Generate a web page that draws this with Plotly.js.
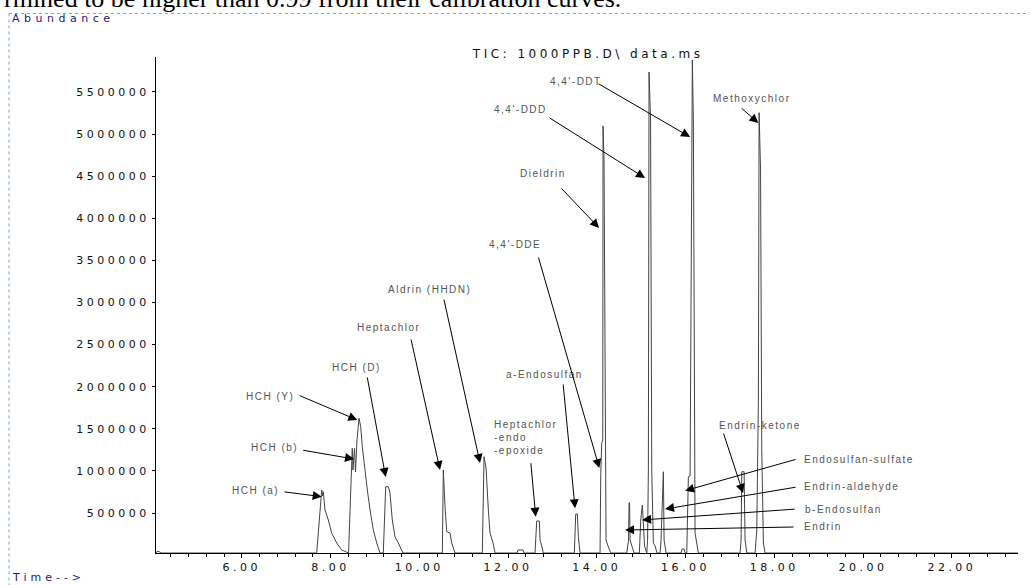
<!DOCTYPE html>
<html>
<head>
<meta charset="utf-8">
<script src="https://cdn.plot.ly/plotly-3.0.1.min.js"></script>
<style>
  html, body { margin: 0; padding: 0; background: #fff; }
  #chart { width: 1030px; height: 585px; }
  .gtitle { letter-spacing: 3.5px; }
  .xtick text, .ytick text { letter-spacing: 3.5px; }
</style>
</head>
<body>
<div id="chart"></div>
<script>
// ---- chromatogram data (retention time in min, abundance) ----
var retentionTime = [
  4.066, 4.09, 4.14, 4.18,
  7.687, 7.762, 7.800, 7.818, 7.836, 7.874, 7.949, 8.025, 8.138, 8.251, 8.399,
  8.405, 8.460, 8.489, 8.505, 8.539, 8.562, 8.595, 8.641, 8.679, 8.715, 8.776, 8.828, 8.889, 8.963, 9.039, 9.114,
  9.188, 9.242, 9.301, 9.339, 9.391, 9.452, 9.526, 9.603, 9.632,
  10.518, 10.540, 10.579, 10.617, 10.691, 10.730, 10.804,
  11.419, 11.458, 11.503, 11.555, 11.593, 11.661, 11.706,
  12.202, 12.224, 12.337, 12.360,
  12.607, 12.645, 12.704, 12.720, 12.758, 12.794,
  13.493, 13.524, 13.561, 13.583, 13.621,
  14.072, 14.088, 14.110, 14.133, 14.140, 14.162, 14.196, 14.207, 14.252, 14.313,
  14.674, 14.714, 14.726, 14.737, 14.748, 14.793, 14.838,
  14.958, 14.989, 15.025, 15.048, 15.075, 15.125,
  15.143, 15.161, 15.176, 15.210, 15.237, 15.273, 15.312, 15.357,
  15.424, 15.447, 15.485, 15.499, 15.515, 15.560,
  15.898, 15.920, 15.966, 15.988,
  16.026, 16.062, 16.101, 16.152, 16.175, 16.190, 16.213, 16.288,
  17.227, 17.250, 17.266, 17.318, 17.340, 17.378,
  17.565, 17.604, 17.640, 17.656, 17.689, 17.716, 17.753, 17.791,
  23.49
];
var abundance = [
  25000, 45000, 40000, 25000,
  25000, 536000, 773000, 702000, 753000, 536000, 417000, 262000, 144000, 61000, 25000,
  25000, 856000, 1268000, 1011000, 1268000, 987000, 1367000, 1625000, 1525000, 1287000, 975000, 773000, 536000, 298000, 144000, 25000,
  25000, 812000, 812000, 737000, 417000, 215000, 144000, 40000, 25000,
  25000, 1011000, 575000, 278000, 262000, 144000, 25000,
  25000, 1169000, 1034000, 536000, 262000, 144000, 25000,
  25000, 61000, 61000, 25000,
  25000, 405000, 405000, 179000, 108000, 25000,
  25000, 488000, 488000, 219000, 25000,
  25000, 971000, 1328000, 1367000, 5096000, 4692000, 1604000, 179000, 108000, 25000,
  25000, 179000, 622000, 622000, 179000, 108000, 25000,
  25000, 417000, 595000, 417000, 108000, 25000,
  179000, 1011000, 5737000, 5167000, 1011000, 144000, 108000, 25000,
  25000, 179000, 990000, 990000, 179000, 25000,
  25000, 72000, 72000, 25000,
  25000, 931000, 939000, 5880000, 5167000, 1842000, 262000, 25000,
  25000, 179000, 990000, 990000, 179000, 25000,
  25000, 298000, 1842000, 5254000, 4574000, 1248000, 144000, 25000,
  25000
];

// ---- compound labels ----
var compoundNames = [
  "HCH (a)", "HCH (b)", "HCH (Y)", "HCH (D)", "Heptachlor", "Aldrin (HHDN)",
  ["Heptachlor", "-endo", "-epoxide"], "a-Endosulfan", "4,4'-DDE", "Dieldrin",
  "4,4'-DDD", "4,4'-DDT", "Methoxychlor", "Endrin-ketone",
  "Endosulfan-sulfate", "Endrin-aldehyde", "b-Endosulfan", "Endrin"
];

// ---- axis ticks / texts ----
var yTickVals = [500000, 1000000, 1500000, 2000000, 2500000, 3000000, 3500000, 4000000, 4500000, 5000000, 5500000];
var chartTitle = "TIC: 1000PPB.D\\ data.ms";
var yAxisLabel = "Abundance";
var xAxisLabel = "Time-->";
var pageText = "rmined to be higher than 0.99 from their calibration curves.";

// ---- label placement (layout only) ----
// [textX, textY, xanchor, arrowStartX, arrowStartY, arrowTipX, arrowTipY]
var labelLayout = [
  [6.882, 773000, 'right', 6.928, 753000, 7.800, 694000],
  [7.311, 1272000, 'right', 7.349, 1248000, 8.528, 1141000],
  [7.221, 1878000, 'right', 7.272, 1901000, 8.602, 1604000],
  [8.573, 2222000, 'center', 8.821, 2127000, 9.242, 927000],
  [9.294, 2697000, 'center', 9.806, 2578000, 10.466, 1011000],
  [10.218, 3160000, 'center', 10.547, 3053000, 11.368, 1094000],
  [11.631, 1391000, 'left', 12.510, 1109000, 12.623, 456000],
  [12.810, 2139000, 'center', 13.238, 2044000, 13.509, 556000],
  [12.156, 3683000, 'center', 12.675, 3552000, 14.056, 1034000],
  [12.787, 4526000, 'center', 13.171, 4372000, 14.050, 3885000],
  [12.269, 5286000, 'center', 12.900, 5203000, 15.086, 4478000],
  [13.531, 5630000, 'center', 14.005, 5607000, 16.101, 4965000],
  [17.475, 5417000, 'center', 17.227, 5322000, 17.640, 5132000],
  [17.678, 1545000, 'center', 16.844, 1462000, 17.295, 737000],
  [18.625, 1141000, 'left', 18.512, 1141000, 15.988, 765000],
  [18.625, 809000, 'left', 18.512, 809000, 15.537, 547000],
  [18.647, 547000, 'left', 18.490, 547000, 15.019, 417000],
  [18.625, 334000, 'left', 18.467, 334000, 14.636, 298000]
];

function spaced(s, px) {
  return '<span style="letter-spacing:' + px + 'px">' + s + '</span>';
}

var annotations = [
  {text: pageText, xref: 'paper', yref: 'paper',
   x: -0.1787, y: 1.0855, xanchor: 'left', yanchor: 'bottom', showarrow: false,
   font: {family: 'Liberation Serif', size: 26, color: '#000'}},
  {text: spaced(yAxisLabel, 4.5), xref: 'paper', yref: 'paper', x: -0.1694, y: 1.0786, xanchor: 'left', yanchor: 'middle',
   showarrow: false, font: {family: 'DejaVu Sans', size: 11, color: '#1c1c78'}},
  {text: spaced(xAxisLabel, 4), xref: 'paper', yref: 'paper', x: -0.1694, y: -0.0504, xanchor: 'left', yanchor: 'middle',
   showarrow: false, font: {family: 'DejaVu Sans', size: 11, color: '#1c1c78'}}
];

compoundNames.forEach(function (name, i) {
  var p = labelLayout[i];
  var lines = Array.isArray(name) ? name : [name];
  annotations.push({
    text: lines.map(function (l) { return spaced(l, 1.5); }).join('<br>'),
    xref: 'x', yref: 'y', x: p[0], y: p[1], xanchor: p[2], yanchor: 'middle',
    align: 'left', showarrow: false,
    font: {family: 'Liberation Sans', size: 10, color: '#555'}
  });
});
compoundNames.forEach(function (name, i) {
  var p = labelLayout[i];
  annotations.push({
    text: '', xref: 'x', yref: 'y', x: p[5], y: p[6], axref: 'x', ayref: 'y', ax: p[3], ay: p[4],
    showarrow: true, arrowhead: 2, arrowsize: 1.8, arrowwidth: 1, arrowcolor: '#000', standoff: 0
  });
});

var trace = {
  x: retentionTime, y: abundance, type: 'scatter', mode: 'lines',
  line: {color: '#444', width: 1}, hoverinfo: 'skip'
};

var layout = {
  width: 1030, height: 585,
  margin: {l: 156, r: 12, t: 57, b: 32},
  paper_bgcolor: '#fff', plot_bgcolor: '#fff',
  showlegend: false,
  title: {text: chartTitle, xref: 'container', yref: 'container', x: 0.571, y: 0.9077,
          xanchor: 'center', yanchor: 'middle', font: {family: 'DejaVu Sans', size: 12, color: '#111'}},
  xaxis: {
    range: [4.066, 23.49], showline: true, linecolor: '#000', linewidth: 1, mirror: false,
    ticks: 'outside', ticklen: 4, tickcolor: '#000', tickmode: 'linear', tick0: 6, dtick: 2,
    tickformat: '.2f', showgrid: false, zeroline: false,
    minor: {ticks: 'outside', ticklen: 2.5, tickcolor: '#000', dtick: 0.4, tick0: 6, showgrid: false},
    tickfont: {family: 'DejaVu Sans', size: 11, color: '#111'}
  },
  yaxis: {
    range: [25000, 5915000], showline: true, linecolor: '#000', linewidth: 1,
    ticks: 'outside', ticklen: 3, tickcolor: '#000', tickmode: 'array', tickvals: yTickVals,
    tickformat: 'd', showgrid: false, zeroline: false,
    tickfont: {family: 'DejaVu Sans', size: 11, color: '#111'}
  },
  annotations: annotations,
  shapes: [
    {type: 'line', xref: 'paper', yref: 'paper', x0: -0.1705, x1: 1.0139, y0: 1.0877, y1: 1.0877,
     line: {color: '#7aa7c7', width: 1, dash: 'dot'}},
    {type: 'line', xref: 'paper', yref: 'paper', x0: -0.1705, x1: -0.1705, y0: 1.0877, y1: -0.0746,
     line: {color: '#7aa7c7', width: 1, dash: 'dot'}}
  ]
};

Plotly.newPlot('chart', [trace], layout, {displayModeBar: false, staticPlot: true});
</script>
</body>
</html>
